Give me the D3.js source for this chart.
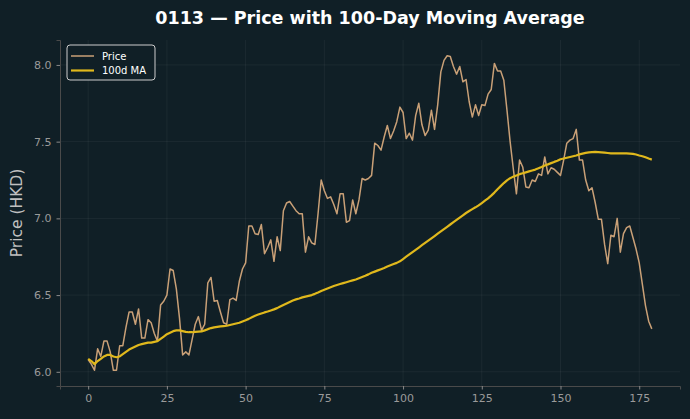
<!DOCTYPE html>
<html>
<head>
<meta charset="utf-8">
<script src="https://cdn.jsdelivr.net/npm/d3@7"></script>
<style>
  html, body { margin: 0; padding: 0; background: #101f26; }
  text { font-family: "DejaVu Sans", sans-serif; }
</style>
</head>
<body>
<div id="chart"></div>
<script>
// price, one value per trading day (index 0..179)
const price = [
  6.08, 6.05, 6.01, 6.15, 6.10, 6.20, 6.20, 6.13, 6.01, 6.01,
  6.17, 6.17, 6.29, 6.39, 6.39, 6.31, 6.41, 6.22, 6.22, 6.34,
  6.32, 6.25, 6.20, 6.435, 6.46, 6.50, 6.67, 6.66, 6.54, 6.35,
  6.11, 6.13, 6.11, 6.21, 6.31, 6.36, 6.27, 6.31, 6.58, 6.615,
  6.46, 6.465, 6.39, 6.32, 6.31, 6.47, 6.48, 6.465, 6.59, 6.67,
  6.71, 6.95, 6.95, 6.90, 6.895, 6.96, 6.77, 6.81, 6.86, 6.72,
  6.88, 6.79, 7.05, 7.10, 7.11, 7.08, 7.05, 7.03, 7.03, 6.78,
  6.88, 6.84, 6.83, 7.03, 7.25, 7.18, 7.13, 7.14, 7.09, 7.03,
  7.16, 7.16, 6.975, 6.985, 7.12, 7.03, 7.12, 7.26, 7.25, 7.26,
  7.28, 7.49, 7.475, 7.445, 7.53, 7.605, 7.52, 7.57, 7.63, 7.725,
  7.69, 7.52, 7.555, 7.51, 7.67, 7.75, 7.61, 7.54, 7.575, 7.705,
  7.58, 7.74, 7.955, 8.03, 8.06, 8.055, 7.99, 7.94, 7.99, 7.89,
  7.905, 7.76, 7.66, 7.74, 7.67, 7.74, 7.735, 7.81, 7.84, 8.01,
  7.96, 7.96, 7.90, 7.705, 7.50, 7.325, 7.16, 7.38, 7.335, 7.205,
  7.20, 7.25, 7.24, 7.29, 7.28, 7.40, 7.29, 7.33, 7.32, 7.30,
  7.28, 7.38, 7.49, 7.51, 7.52, 7.58, 7.38, 7.38, 7.25, 7.18,
  7.20, 7.105, 6.995, 6.995, 6.83, 6.705, 6.89, 6.88, 7.00, 6.78,
  6.90, 6.94, 6.95, 6.875, 6.80, 6.71, 6.57, 6.43, 6.33, 6.28
];

// 100-day moving average
const ma100 = [
  6.085, 6.07, 6.05, 6.07, 6.085, 6.10, 6.11, 6.11, 6.10, 6.095,
  6.10, 6.115, 6.13, 6.145, 6.155, 6.165, 6.175, 6.18, 6.185, 6.19,
  6.19, 6.195, 6.20, 6.215, 6.23, 6.245, 6.255, 6.265, 6.27, 6.27,
  6.265, 6.26, 6.258, 6.258, 6.26, 6.262, 6.263, 6.27, 6.278, 6.285,
  6.29, 6.293, 6.296, 6.298, 6.30, 6.305, 6.31, 6.315, 6.32, 6.328,
  6.336, 6.345, 6.355, 6.365, 6.373, 6.38, 6.387, 6.393, 6.40, 6.407,
  6.415, 6.425, 6.435, 6.445, 6.455, 6.465, 6.472, 6.478, 6.485, 6.49,
  6.495, 6.50, 6.508, 6.517, 6.527, 6.535, 6.543, 6.551, 6.559, 6.566,
  6.572, 6.578, 6.584, 6.59, 6.596, 6.602, 6.61, 6.618, 6.626, 6.635,
  6.645, 6.653, 6.661, 6.669, 6.677, 6.686, 6.694, 6.702, 6.71, 6.72,
  6.735, 6.75, 6.765, 6.78, 6.795, 6.81, 6.825, 6.84, 6.855, 6.87,
  6.885, 6.90, 6.915, 6.93, 6.945, 6.96, 6.975, 6.99, 7.005, 7.02,
  7.035, 7.048, 7.06, 7.072, 7.085, 7.10, 7.115, 7.13, 7.148, 7.168,
  7.19, 7.21, 7.23, 7.248, 7.262, 7.272, 7.28, 7.288, 7.294, 7.30,
  7.306, 7.312, 7.318, 7.326, 7.335, 7.345, 7.352, 7.36, 7.368, 7.375,
  7.385, 7.39, 7.395, 7.40, 7.405, 7.41, 7.417, 7.422, 7.427, 7.43,
  7.432, 7.433, 7.432, 7.43, 7.428, 7.426, 7.424, 7.423, 7.423, 7.424,
  7.424, 7.424, 7.422, 7.42, 7.416, 7.41, 7.405, 7.398, 7.39, 7.383
];

const xTicks = [0, 25, 50, 75, 100, 125, 150, 175];
const yTicks = [6.0, 6.5, 7.0, 7.5, 8.0];
const seriesNames = ['Price', '100d MA'];

const width = 690;
const height = 419;
const margin = { top: 40, right: 10, bottom: 33, left: 60 };

const svg = d3.select('#chart')
    .append('svg')
    .attr('width', width)
    .attr('height', height);

svg.append('rect')
    .attr('width', width)
    .attr('height', height)
    .attr('fill', '#101f26');

const chartWidth = width - margin.left - margin.right;
const chartHeight = height - margin.top - margin.bottom;

const chart = svg.append('g')
    .attr('transform', `translate(${margin.left},${margin.top})`);

// matplotlib style 5% padding
const n = price.length;
const xPad = (n - 1) * 0.05;
const yMin = d3.min(price), yMax = d3.max(price);
const yPad = (yMax - yMin) * 0.05;

const xScale = d3.scaleLinear()
    .domain([-xPad, n - 1 + xPad])
    .range([0, chartWidth]);
const yScale = d3.scaleLinear()
    .domain([yMin - yPad, yMax + yPad])
    .range([chartHeight, 0]);

// grid
chart.append('g')
    .selectAll('line.gx')
    .data(xTicks)
    .enter()
    .append('line')
    .attr('x1', d => xScale(d))
    .attr('x2', d => xScale(d))
    .attr('y1', 0)
    .attr('y2', chartHeight)
    .attr('stroke', '#ffffff')
    .attr('stroke-opacity', 0.05);
chart.append('g')
    .selectAll('line.gy')
    .data(yTicks)
    .enter()
    .append('line')
    .attr('x1', 0)
    .attr('x2', chartWidth)
    .attr('y1', d => yScale(d))
    .attr('y2', d => yScale(d))
    .attr('stroke', '#ffffff')
    .attr('stroke-opacity', 0.05);

// axes
const xAxis = d3.axisBottom(xScale)
    .tickValues(xTicks)
    .tickSizeOuter(0)
    .tickSize(3.5)
    .tickPadding(5)
    .tickFormat(d3.format('d'));
const yAxis = d3.axisLeft(yScale)
    .tickValues(yTicks)
    .tickSizeOuter(0)
    .tickSize(3.5)
    .tickPadding(5)
    .tickFormat(d3.format('.1f'));

const gx = chart.append('g')
    .attr('transform', `translate(0,${chartHeight})`)
    .call(xAxis);
const gy = chart.append('g')
    .call(yAxis);

[gx, gy].forEach(g => {
    g.select('.domain').attr('stroke', '#4a4a4a');
    g.selectAll('.tick line').attr('stroke', '#8a8a8a');
    g.selectAll('.tick text')
        .attr('fill', '#9a9a9a')
        .style('font-size', '11px')
        .style('font-family', '"DejaVu Sans", sans-serif');
});

// lines
const line = d3.line()
    .x((d, i) => xScale(i))
    .y(d => yScale(d));

chart.append('path')
    .datum(price)
    .attr('fill', 'none')
    .attr('stroke', '#c9a077')
    .attr('stroke-width', 1.5)
    .attr('stroke-linejoin', 'round')
    .attr('d', line);

chart.append('path')
    .datum(ma100)
    .attr('fill', 'none')
    .attr('stroke', '#e0b81c')
    .attr('stroke-width', 2.2)
    .attr('stroke-linejoin', 'round')
    .attr('d', line);

// title and label
svg.append('text')
    .attr('x', margin.left + chartWidth / 2)
    .attr('y', 24)
    .attr('text-anchor', 'middle')
    .attr('fill', '#ffffff')
    .style('font-size', '17.5px')
    .style('font-weight', 'bold')
    .text('0113 — Price with 100-Day Moving Average');

svg.append('text')
    .attr('transform', `translate(22,${margin.top + chartHeight / 2}) rotate(-90)`)
    .attr('text-anchor', 'middle')
    .attr('fill', '#c0c0c0')
    .style('font-size', '15.5px')
    .text('Price (HKD)');

// legend
const legend = svg.append('g')
    .attr('transform', 'translate(67,45)');
legend.append('rect')
    .attr('width', 88)
    .attr('height', 35)
    .attr('rx', 3)
    .attr('fill', '#101f26')
    .attr('stroke', '#cccccc')
    .attr('stroke-width', 1);
const legendColors = ['#c9a077', '#e0b81c'];
const legendWidths = [1.5, 2.2];
seriesNames.forEach((name, i) => {
    const y = 11 + i * 14.5;
    legend.append('line')
        .attr('x1', 4)
        .attr('x2', 27)
        .attr('y1', y)
        .attr('y2', y)
        .attr('stroke', legendColors[i])
        .attr('stroke-width', legendWidths[i]);
    legend.append('text')
        .attr('x', 35)
        .attr('y', y + 3.5)
        .attr('fill', '#ffffff')
        .style('font-size', '10px')
        .text(name);
});
</script>
</body>
</html>
